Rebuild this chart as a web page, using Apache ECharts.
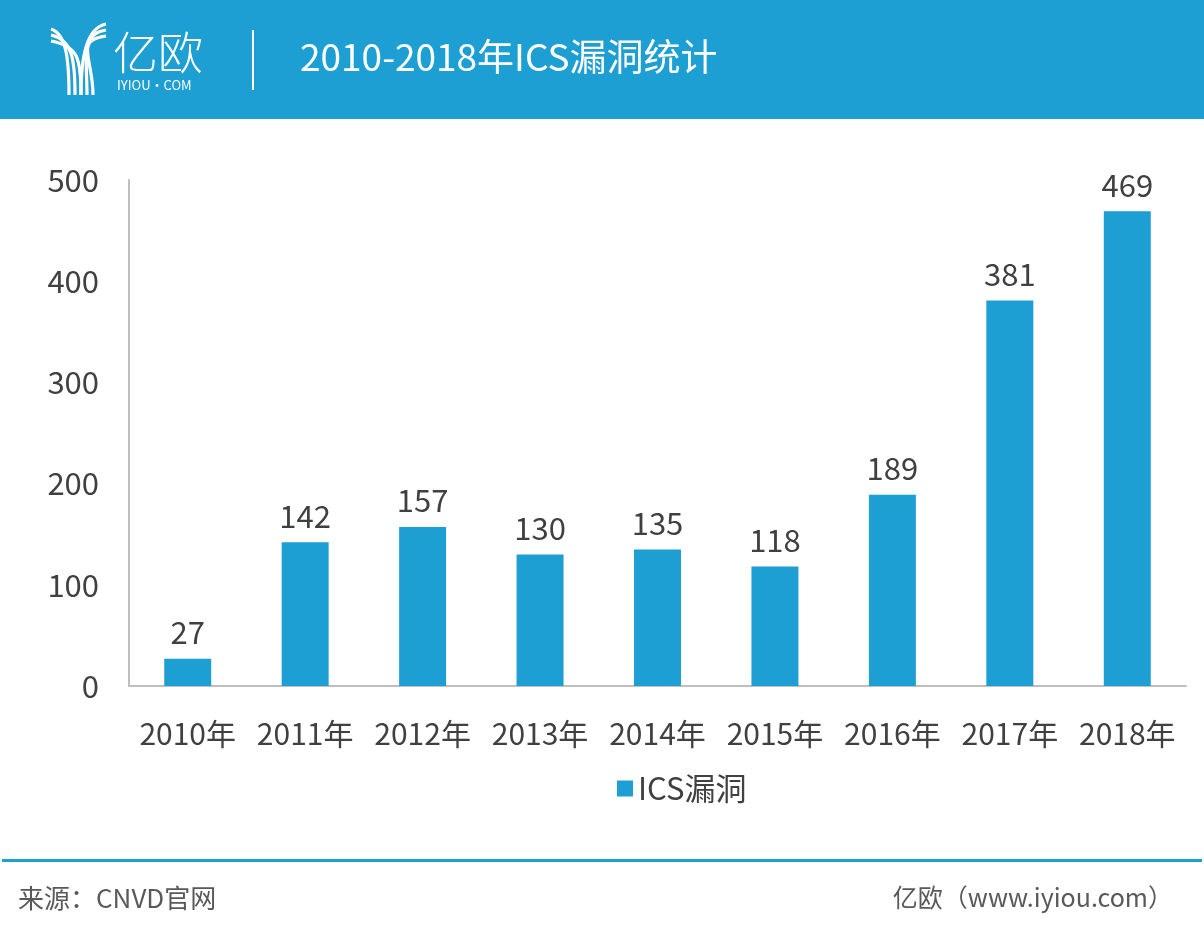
<!DOCTYPE html>
<html>
<head>
<meta charset="utf-8">
<script src="https://cdn.jsdelivr.net/npm/echarts@6/dist/echarts.min.js"></script>
<style>
  html, body { margin: 0; padding: 0; background: #fff; }
  #chart { width: 1204px; height: 939px; }
</style>
</head>
<body>
<div id="chart"></div>
<script>
  var years = ['2010年', '2011年', '2012年', '2013年', '2014年', '2015年', '2016年', '2017年', '2018年'];
  var vulns = [27, 142, 157, 130, 135, 118, 189, 381, 469];
  var yTicks = [0, 100, 200, 300, 400, 500];

  var blue = '#1e9fd3';
  var font = '"Noto Sans CJK SC", "Noto Sans", sans-serif';

  var myChart = echarts.init(document.getElementById('chart'));

  // logo: stylised Y made from curved stripes
  var logo = [];
  for (var i = 0; i < 3; i++) {
    var o = i * 6;
    logo.push({
      type: 'bezierCurve',
      shape: { x1: 51, y1: 29 + o, cpx1: 66 + o, cpy1: 34 + o, x2: 69 + o, y2: 95, cpx2: 69 + o, cpy2: 58 },
      style: { stroke: '#fff', lineWidth: 3.2, fill: null }
    });
  }
  for (var j = 0; j < 3; j++) {
    var p = j * 6;
    logo.push({
      type: 'bezierCurve',
      shape: { x1: 106, y1: 24 + p, cpx1: 86 - p, cpy1: 28 + p, x2: 81 + p, y2: 95, cpx2: 81 + p, cpy2: 58 },
      style: { stroke: '#fff', lineWidth: 3.2, fill: null }
    });
  }

  myChart.setOption({
    animation: false,
    graphic: [
      { type: 'rect', shape: { x: 0, y: 0, width: 1204, height: 119 }, style: { fill: blue } },
      { type: 'group', children: logo },
      { type: 'text', left: 113, top: 30, style: { text: '亿欧', fill: '#fff', font: '300 45px ' + font } },
      { type: 'text', left: 117, top: 79, style: { text: 'IYIOU·COM', fill: '#fff', font: '13px ' + font } },
      { type: 'rect', shape: { x: 252, y: 30, width: 2, height: 60 }, style: { fill: '#fff' } },
      { type: 'text', left: 300, top: 38, style: { text: '2010-2018年ICS漏洞统计', fill: '#fff', font: '37px ' + font } },
      { type: 'rect', shape: { x: 2, y: 859, width: 1200, height: 3 }, style: { fill: blue } },
      { type: 'text', left: 18, top: 885, style: { text: '来源：CNVD官网', fill: '#595959', font: '26px ' + font } },
      { type: 'text', right: 31, top: 885, style: { text: '亿欧（www.iyiou.com）', fill: '#595959', font: '25px ' + font } }
    ],
    legend: {
      data: ['ICS漏洞'],
      left: 612,
      top: 768,
      itemWidth: 16,
      itemHeight: 16,
      itemGap: 10,
      icon: 'rect',
      textStyle: { fontSize: 31, color: '#404040', fontFamily: font }
    },
    grid: {
      left: 129,
      right: 18,
      top: 180,
      height: 506
    },
    xAxis: {
      type: 'category',
      data: years,
      axisLine: { lineStyle: { color: '#bfbfbf', width: 2 } },
      axisTick: { show: false },
      axisLabel: { interval: 0, fontSize: 30, color: '#404040', fontFamily: font, margin: 33 }
    },
    yAxis: {
      type: 'value',
      min: yTicks[0],
      max: yTicks[yTicks.length - 1],
      interval: 100,
      axisLine: { show: true, lineStyle: { color: '#bfbfbf', width: 2 } },
      axisTick: { show: false },
      splitLine: { show: false },
      axisLabel: { fontSize: 31, color: '#404040', fontFamily: font, margin: 30 }
    },
    series: [
      {
        name: 'ICS漏洞',
        type: 'bar',
        data: vulns,
        barWidth: '40%',
        itemStyle: { color: blue },
        label: {
          show: true,
          position: 'top',
          distance: 11,
          fontSize: 31,
          color: '#404040',
          fontFamily: font
        }
      }
    ]
  });
</script>
</body>
</html>
